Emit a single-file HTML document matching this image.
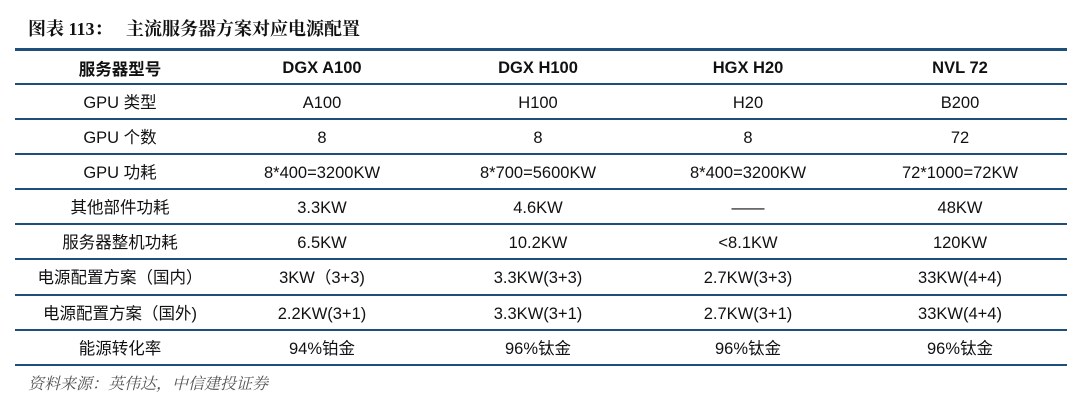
<!DOCTYPE html><html><head><meta charset="utf-8"><style>
body{margin:0;width:1080px;height:402px;background:#fff;position:relative;overflow:hidden;font-family:"Liberation Sans","Noto Sans CJK SC",sans-serif;color:#111}
.t{position:absolute;left:28px;top:17px;font-family:"Liberation Serif","Noto Serif CJK SC",serif;font-weight:bold;font-size:18px;line-height:24px}
.l{position:absolute;left:15px;width:1052px;height:2px;background:#1d4f7a}
.r{position:absolute;left:15px;width:1052px;height:35px;font-size:16.5px}
.r div{position:absolute;top:50%;transform:translate(-50%,-50%);white-space:nowrap;line-height:20px;height:20px;display:flex;align-items:center}
.h{font-weight:bold}
.s{position:absolute;left:28px;top:372px;font-size:16px;line-height:22px;font-style:italic;color:#555;font-family:"Noto Serif CJK SC",serif}
</style></head><body>
<div class="t">图表 113：&nbsp;&nbsp;&nbsp;主流服务器方案对应电源配置</div>
<div class="l" style="top:48px;height:3px"></div>
<div class="l" style="top:83px"></div><div class="l" style="top:118px"></div><div class="l" style="top:153px"></div><div class="l" style="top:188px"></div><div class="l" style="top:223px"></div><div class="l" style="top:258px"></div><div class="l" style="top:294px"></div><div class="l" style="top:329px"></div><div class="l" style="top:364px"></div>
<div class="r h" style="top:50px"><div style="left:105px;font-family:'Noto Sans CJK SC',sans-serif">服务器型号</div><div style="left:307px">DGX A100</div><div style="left:523px">DGX H100</div><div style="left:733px">HGX H20</div><div style="left:945px">NVL 72</div></div>
<div class="r" style="top:85px"><div style="left:105px">GPU&nbsp;类型</div><div style="left:307px">A100</div><div style="left:523px">H100</div><div style="left:733px">H20</div><div style="left:945px">B200</div></div>
<div class="r" style="top:120px"><div style="left:105px">GPU&nbsp;个数</div><div style="left:307px">8</div><div style="left:523px">8</div><div style="left:733px">8</div><div style="left:945px">72</div></div>
<div class="r" style="top:155px"><div style="left:105px">GPU&nbsp;功耗</div><div style="left:307px">8*400=3200KW</div><div style="left:523px">8*700=5600KW</div><div style="left:733px">8*400=3200KW</div><div style="left:945px">72*1000=72KW</div></div>
<div class="r" style="top:190px"><div style="left:105px">其他部件功耗</div><div style="left:307px">3.3KW</div><div style="left:523px">4.6KW</div><div style="left:733px">——</div><div style="left:945px">48KW</div></div>
<div class="r" style="top:225px"><div style="left:105px">服务器整机功耗</div><div style="left:307px">6.5KW</div><div style="left:523px">10.2KW</div><div style="left:733px">&lt;8.1KW</div><div style="left:945px">120KW</div></div>
<div class="r" style="top:260px"><div style="left:105px">电源配置方案（国内）</div><div style="left:307px">3KW（3+3)</div><div style="left:523px">3.3KW(3+3)</div><div style="left:733px">2.7KW(3+3)</div><div style="left:945px">33KW(4+4)</div></div>
<div class="r" style="top:296px"><div style="left:105px">电源配置方案（国外)</div><div style="left:307px">2.2KW(3+1)</div><div style="left:523px">3.3KW(3+1)</div><div style="left:733px">2.7KW(3+1)</div><div style="left:945px">33KW(4+4)</div></div>
<div class="r" style="top:331px"><div style="left:105px">能源转化率</div><div style="left:307px">94%铂金</div><div style="left:523px">96%钛金</div><div style="left:733px">96%钛金</div><div style="left:945px">96%钛金</div></div>
<div class="s">资料来源：英伟达，中信建投证券</div>
</body></html>
